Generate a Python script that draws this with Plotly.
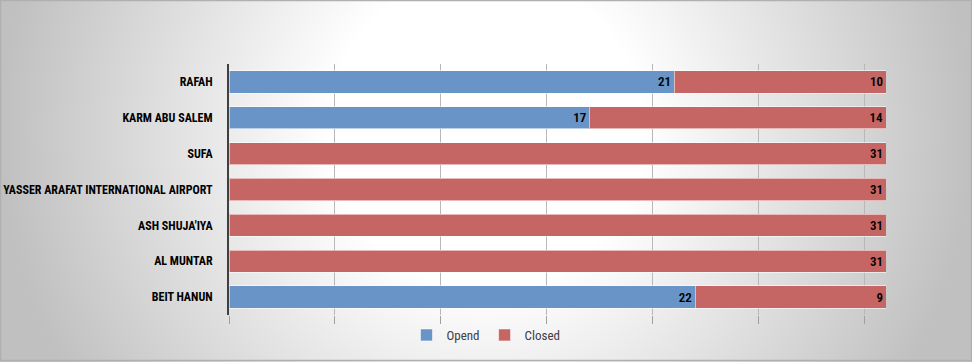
import plotly.graph_objects as go
import urllib.parse

categories = ["RAFAH", "KARM ABU SALEM", "SUFA", "YASSER ARAFAT INTERNATIONAL AIRPORT",
              "ASH SHUJA'IYA", "AL MUNTAR", "BEIT HANUN"]
opend = [21, 17, 0, 0, 0, 0, 22]
closed = [10, 14, 31, 31, 31, 31, 9]

W, H = 972, 362
L, R, T, B = 229, 86, 64, 47
pw, ph = W - L - R, H - T - B

FONT = "Roboto Condensed, Open Sans Condensed, DejaVu Sans Condensed, sans-serif"

svg = (
    "<svg xmlns='http://www.w3.org/2000/svg' width='972' height='362' viewBox='0 0 972 362' preserveAspectRatio='none'>"
    "<defs><radialGradient id='g' gradientUnits='userSpaceOnUse' cx='486' cy='130' r='486'>"
    "<stop offset='0' stop-color='#ffffff'/><stop offset='0.32' stop-color='#ffffff'/>"
    "<stop offset='1' stop-color='#c0c0c0'/></radialGradient></defs>"
    "<rect width='972' height='362' fill='url(#g)'/>"
    "<rect x='0.5' y='0.5' width='971' height='360' fill='none' stroke='#b0b0b0' stroke-width='1.5'/>"
    "</svg>"
)
src = "data:image/svg+xml;charset=utf-8," + urllib.parse.quote(svg)

fig = go.Figure()
for name, vals, col in [("Opend", opend, "#6894c8"), ("Closed", closed, "#c66664")]:
    fig.add_trace(go.Bar(
        y=categories, x=vals, name=name, orientation="h",
        marker=dict(color=col, line=dict(color="rgba(255,255,255,0.55)", width=1)),
        text=[str(v) if v else "" for v in vals], textposition="inside",
        insidetextanchor="end", textangle=0,
        textfont=dict(color="black", size=13, family=FONT, weight=600),
    ))

fig.update_layout(
    width=W, height=H,
    barmode="stack", bargap=0.38,
    margin=dict(l=L, r=R, t=T, b=B, autoexpand=False),
    paper_bgcolor="#e4e4e4", plot_bgcolor="rgba(0,0,0,0)",
    font=dict(family=FONT, size=13, color="#000000"),
    uniformtext=dict(minsize=13, mode="show"),
    images=[dict(source=src, xref="paper", yref="paper",
                 x=-L / pw, y=1 + T / ph, sizex=W / pw, sizey=H / ph,
                 xanchor="left", yanchor="top", sizing="stretch", layer="below")],
    legend=dict(orientation="h", x=(486 - L) / pw, xanchor="center",
                y=-(335 - (T + ph)) / ph, yanchor="middle",
                font=dict(size=13, color="#404040", family=FONT),
                bgcolor="rgba(0,0,0,0)", itemwidth=30, traceorder="normal"),
    showlegend=True,
)
fig.update_xaxes(range=[0, 31], dtick=5, showgrid=True, gridcolor="#b8b8b8", gridwidth=1,
                 showticklabels=False, ticks="outside", ticklen=8, tickcolor="#a0a0a0",
                 zeroline=False, showline=False, fixedrange=True, automargin=False)
fig.update_yaxes(autorange="reversed", showline=True, linecolor="#404040", linewidth=2,
                 ticks="", ticklabelstandoff=12, showgrid=False, automargin=False,
                 tickfont=dict(size=12, color="#000000", family=FONT, weight="bold"),
                 fixedrange=True)

fig.write_html("out.html", config={"displayModeBar": False},
               post_script="document.body.style.margin='0';document.body.style.overflow='hidden';")
